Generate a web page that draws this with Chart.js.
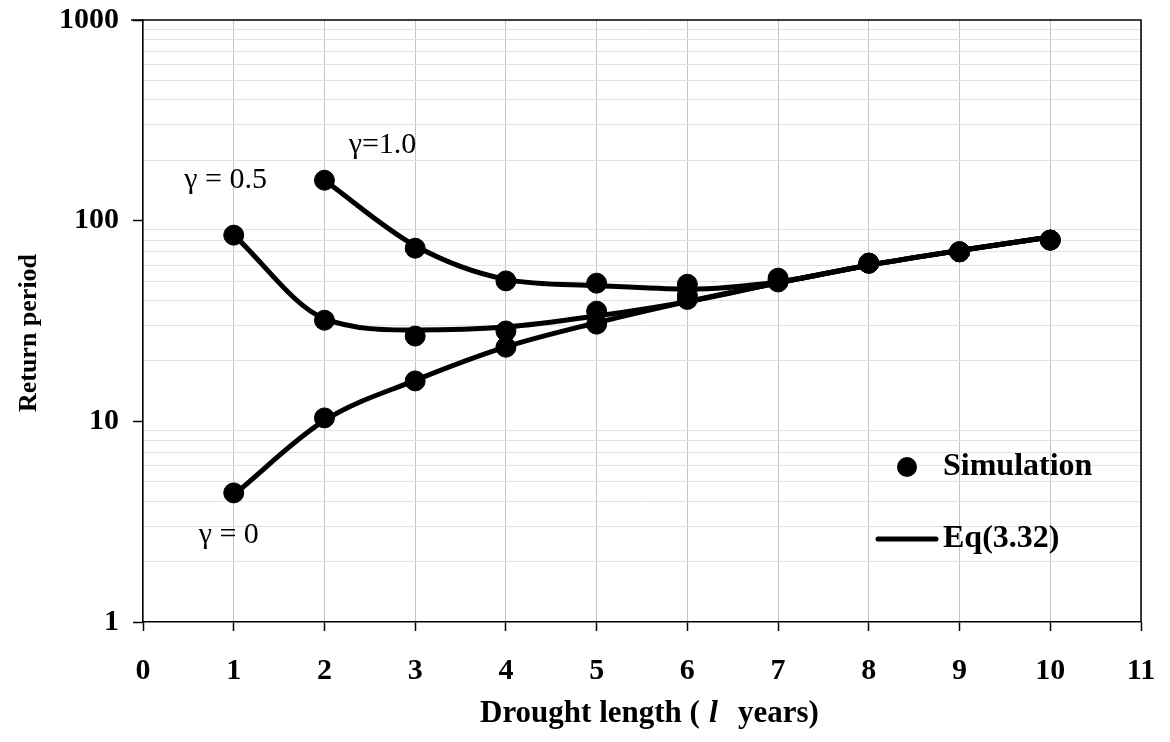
<!DOCTYPE html>
<html>
<head>
<meta charset="utf-8">
<script src="https://cdn.jsdelivr.net/npm/chart.js@4/dist/chart.umd.min.js"></script>
<style>
  html, body { margin: 0; padding: 0; background: #fff; }
  #wrap { width: 1170px; height: 742px; }
</style>
</head>
<body>
<div id="wrap"><canvas id="rpChart"></canvas></div>
<script>
// --- data ---
const xYears = [1, 2, 3, 4, 5, 6, 7, 8, 9, 10];

// simulation points
const simG0   = [4.4, 10.4, 15.9, 23.4, 30.5, 40.5, 49.5, 61.4, 70, 80];
const simG05  = [84.7, 31.9, 26.6, 28.2, 35.4, 42.5, 50.3, 61.4, 70, 80];
const simG1   = [null, 159, 72.9, 50.1, 48.8, 48.2, 51.7, 61.4, 70, 80];

// Eq(3.32) curves
const eqG0    = [4.3, 10.1, 16, 23.5, 31, 39.5, 49, 60, 71, 83];
const eqG05   = [85, 32.5, 28.5, 29.5, 33.5, 39.5, 49, 60, 71, 83];
const eqG1    = [null, 159, 75, 51, 47.5, 45.6, 49.5, 60, 71, 83];

const yGridValues = [1, 2, 3, 4, 5, 6, 7, 8, 9, 10, 20, 30, 40, 50, 60, 70, 80, 90,
                     100, 200, 300, 400, 500, 600, 700, 800, 900, 1000];
const yLabelValues = [1, 10, 100, 1000];

const gammaLabels = [
    { text: 'γ = 0.5', x: 0.91, y: 159 },
    { text: 'γ=1.0',  x: 2.64, y: 238 },
    { text: 'γ = 0',   x: 0.945, y: 2.7 }
];

const SERIF = '"Liberation Serif", "Times New Roman", serif';

function pts(ys) {
    return xYears.map((x, i) => ({ x: x, y: ys[i] })).filter(p => p.y !== null);
}

function curve(ys) {
    return {
        type: 'line', data: pts(ys), showLine: true,
        borderColor: '#000', borderWidth: 5, pointRadius: 0,
        cubicInterpolationMode: 'monotone', fill: false, order: 2
    };
}
function dots(ys) {
    return {
        type: 'scatter', data: pts(ys), showLine: false,
        backgroundColor: '#000', borderColor: '#000', pointRadius: 10, order: 1
    };
}

// extra drawing: frame, titles, gamma labels, legend
const decorPlugin = {
    id: 'decor',
    afterDraw(chart) {
        const c = chart.ctx;
        const a = chart.chartArea;
        const xs = chart.scales.x, ys = chart.scales.y;
        c.save();
        // top and right frame
        c.strokeStyle = '#000';
        c.lineWidth = 1.5;
        c.beginPath();
        c.moveTo(a.left - 12, a.top);
        c.lineTo(a.right, a.top);
        c.lineTo(a.right, a.bottom);
        c.stroke();

        // gamma labels
        c.fillStyle = '#000';
        c.font = '30px ' + SERIF;
        c.textAlign = 'center';
        c.textBaseline = 'middle';
        gammaLabels.forEach(g => {
            c.fillText(g.text, xs.getPixelForValue(g.x), ys.getPixelForValue(g.y));
        });

        // legend
        const lx = a.right - 234;
        c.beginPath();
        c.arc(lx, a.bottom - 155, 10, 0, Math.PI * 2);
        c.fill();
        c.lineWidth = 5;
        c.lineCap = 'round';
        c.beginPath();
        c.moveTo(lx - 29, a.bottom - 83);
        c.lineTo(lx + 29, a.bottom - 83);
        c.stroke();
        c.font = 'bold 32px ' + SERIF;
        c.textAlign = 'left';
        c.fillText('Simulation', lx + 36, a.bottom - 155);
        c.fillText('Eq(3.32)', lx + 36, a.bottom - 83);

        // y title
        c.font = 'bold 26px ' + SERIF;
        c.textAlign = 'center';
        c.save();
        c.translate(29, (a.top + a.bottom) / 2 + 12);
        c.rotate(-Math.PI / 2);
        c.fillText('Return period', 0, 0);
        c.restore();

        // x title with italic l
        c.textAlign = 'left';
        c.font = 'bold 31px ' + SERIF;
        c.fillText('Drought length (', 480, 714);
        c.font = 'italic bold 32px ' + SERIF;
        c.fillText('l', 709, 714);
        c.font = 'bold 31px ' + SERIF;
        c.fillText('years)', 738, 714);
        c.restore();
    }
};

new Chart(document.getElementById('rpChart'), {
    data: {
        datasets: [curve(eqG0), curve(eqG05), curve(eqG1), dots(simG0), dots(simG05), dots(simG1)]
    },
    options: {
        responsive: true,
        maintainAspectRatio: false,
        animation: false,
        layout: { padding: { left: 0, right: 29, top: 20, bottom: 0 } },
        plugins: { legend: { display: false }, tooltip: { enabled: false } },
        scales: {
            x: {
                type: 'linear', min: 0, max: 11,
                afterFit: s => { s.height = 120; s.paddingLeft = 0; s.paddingRight = 0; },
                ticks: {
                    stepSize: 1, color: '#000', padding: 22,
                    font: { family: SERIF, size: 30, weight: 'bold' }
                },
                grid: {
                    color: '#c4c4c4', lineWidth: 1, borderDash: [1, 3],
                    tickColor: '#000', tickBorderDash: [], tickLength: 9, tickWidth: 1.5
                },
                border: { display: true, color: '#000', width: 1.5 }
            },
            y: {
                type: 'logarithmic', min: 1, max: 1000,
                afterFit: s => { s.width = 143; s.paddingTop = 0; s.paddingBottom = 0; },
                afterBuildTicks: s => { s.ticks = yGridValues.map(v => ({ value: v })); },
                ticks: {
                    color: '#000', padding: 14, autoSkip: false,
                    font: { family: SERIF, size: 30, weight: 'bold' },
                    callback: v => yLabelValues.includes(v) ? String(v) : ''
                },
                grid: {
                    color: ctx => yLabelValues.includes(ctx.tick && ctx.tick.value) ? 'rgba(0,0,0,0)' : '#e2e2e2',
                    lineWidth: 1, borderDash: [1, 3],
                    tickColor: ctx => yLabelValues.includes(ctx.tick && ctx.tick.value) ? '#000' : 'rgba(0,0,0,0)',
                    tickBorderDash: [], tickLength: 10, tickWidth: 1.5
                },
                border: { display: true, color: '#000', width: 1.5 }
            }
        }
    },
    plugins: [decorPlugin]
});
</script>
</body>
</html>
